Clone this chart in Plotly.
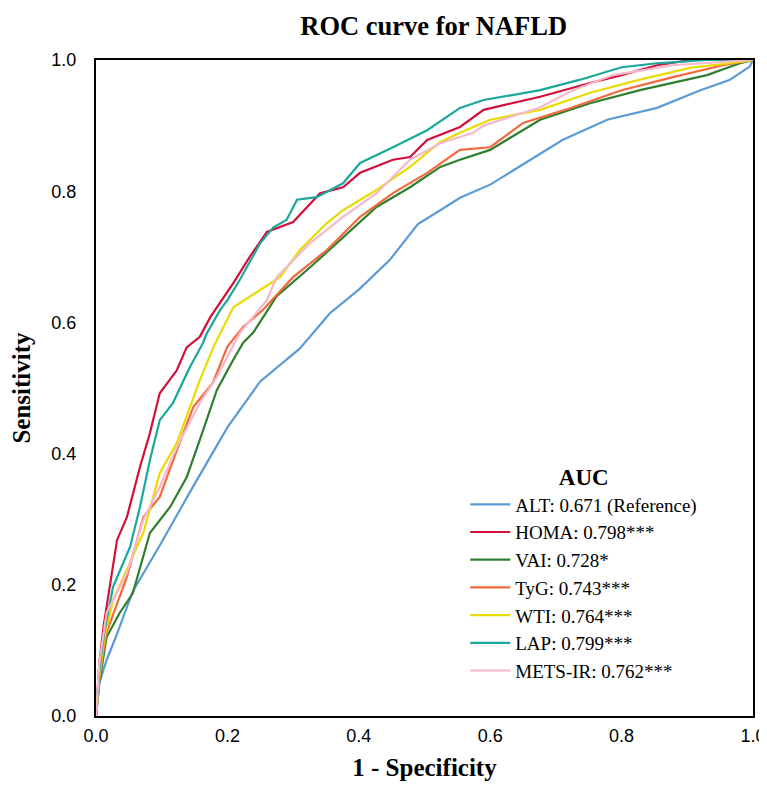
import plotly.graph_objects as go

series_names = ["ALT", "HOMA", "VAI", "TyG", "WTI", "LAP", "METS-IR"]
legend_labels = [
    "ALT: 0.671 (Reference)",
    "HOMA: 0.798***",
    "VAI: 0.728*",
    "TyG: 0.743***",
    "WTI: 0.764***",
    "LAP: 0.799***",
    "METS-IR: 0.762***",
]
colors = ["#5B9BD5", "#D40F3C", "#2F7F2F", "#F4693A", "#E8DC00", "#19A89A", "#F7B8CC"]

alt_fpr = [0, 0.005, 0.016, 0.03, 0.056, 0.097, 0.148, 0.2, 0.25, 0.31, 0.356, 0.40, 0.447, 0.49, 0.524, 0.554, 0.6, 0.71, 0.778, 0.854, 0.92, 0.965, 0.995, 1.0]
alt_tpr = [0, 0.05, 0.085, 0.12, 0.19, 0.26, 0.35, 0.44, 0.51, 0.56, 0.614, 0.65, 0.695, 0.75, 0.771, 0.79, 0.81, 0.878, 0.909, 0.927, 0.954, 0.97, 0.99, 1.0]

homa_fpr = [0, 0.005, 0.012, 0.021, 0.032, 0.047, 0.067, 0.082, 0.097, 0.123, 0.138, 0.158, 0.174, 0.209, 0.234, 0.26, 0.30, 0.341, 0.376, 0.402, 0.452, 0.478, 0.504, 0.554, 0.59, 0.676, 0.752, 0.80, 0.854, 0.905, 1.0]
homa_tpr = [0, 0.08, 0.14, 0.197, 0.268, 0.303, 0.38, 0.431, 0.492, 0.527, 0.562, 0.578, 0.608, 0.66, 0.70, 0.738, 0.753, 0.797, 0.806, 0.828, 0.848, 0.852, 0.878, 0.898, 0.924, 0.944, 0.965, 0.977, 0.992, 1.0, 1.0]

vai_fpr = [0, 0.005, 0.016, 0.036, 0.056, 0.082, 0.113, 0.138, 0.158, 0.184, 0.209, 0.224, 0.239, 0.275, 0.326, 0.376, 0.427, 0.478, 0.524, 0.554, 0.6, 0.676, 0.752, 0.828, 0.93, 0.98, 1.0]
vai_tpr = [0, 0.05, 0.12, 0.157, 0.187, 0.279, 0.319, 0.364, 0.421, 0.497, 0.543, 0.569, 0.584, 0.64, 0.684, 0.73, 0.776, 0.806, 0.837, 0.848, 0.863, 0.909, 0.934, 0.954, 0.977, 0.995, 1.0]

tyg_fpr = [0, 0.005, 0.016, 0.047, 0.072, 0.097, 0.123, 0.148, 0.178, 0.2, 0.224, 0.255, 0.30, 0.351, 0.402, 0.452, 0.504, 0.554, 0.6, 0.65, 0.726, 0.80, 0.878, 0.954, 1.0]
tyg_tpr = [0, 0.06, 0.127, 0.212, 0.303, 0.334, 0.405, 0.471, 0.508, 0.563, 0.593, 0.62, 0.669, 0.71, 0.761, 0.797, 0.828, 0.863, 0.867, 0.904, 0.928, 0.954, 0.974, 0.992, 1.0]

wti_fpr = [0, 0.005, 0.013, 0.026, 0.047, 0.072, 0.097, 0.123, 0.158, 0.18, 0.209, 0.25, 0.28, 0.31, 0.351, 0.376, 0.427, 0.478, 0.524, 0.554, 0.6, 0.676, 0.752, 0.828, 0.904, 0.98, 1.0]
wti_tpr = [0, 0.06, 0.12, 0.177, 0.223, 0.279, 0.37, 0.416, 0.512, 0.565, 0.623, 0.649, 0.669, 0.71, 0.751, 0.771, 0.802, 0.837, 0.875, 0.889, 0.909, 0.924, 0.95, 0.97, 0.988, 0.997, 1.0]

lap_fpr = [0, 0.005, 0.013, 0.026, 0.052, 0.067, 0.082, 0.097, 0.117, 0.143, 0.163, 0.169, 0.189, 0.2, 0.219, 0.25, 0.27, 0.29, 0.306, 0.336, 0.376, 0.402, 0.452, 0.504, 0.554, 0.59, 0.676, 0.737, 0.80, 0.854, 0.93, 1.0]
lap_tpr = [0, 0.07, 0.13, 0.197, 0.258, 0.319, 0.39, 0.451, 0.477, 0.532, 0.569, 0.584, 0.619, 0.634, 0.665, 0.721, 0.745, 0.756, 0.787, 0.791, 0.812, 0.843, 0.867, 0.893, 0.927, 0.939, 0.954, 0.97, 0.989, 0.995, 1.0, 1.0]

mets_fpr = [0, 0.005, 0.016, 0.047, 0.072, 0.097, 0.123, 0.158, 0.184, 0.219, 0.26, 0.275, 0.326, 0.376, 0.427, 0.478, 0.524, 0.554, 0.574, 0.59, 0.676, 0.726, 0.787, 0.878, 0.954, 1.0]
mets_tpr = [0, 0.08, 0.157, 0.218, 0.299, 0.349, 0.41, 0.477, 0.517, 0.584, 0.634, 0.669, 0.721, 0.761, 0.797, 0.848, 0.873, 0.883, 0.889, 0.9, 0.928, 0.954, 0.977, 0.992, 0.997, 1.0]

tick_vals = [0.0, 0.2, 0.4, 0.6, 0.8, 1.0]
tick_text = ["0.0", "0.2", "0.4", "0.6", "0.8", "1.0"]

xs = [alt_fpr, homa_fpr, vai_fpr, tyg_fpr, wti_fpr, lap_fpr, mets_fpr]
ys = [alt_tpr, homa_tpr, vai_tpr, tyg_tpr, wti_tpr, lap_tpr, mets_tpr]

fig = go.Figure()
for name, label, col, x, y in zip(series_names, legend_labels, colors, xs, ys):
    fig.add_trace(go.Scatter(x=x, y=y, mode="lines", name=label,
                             line=dict(color=col, width=2.2)))

serif = "Liberation Serif, Times New Roman, serif"
sans = "Liberation Sans, Arial, sans-serif"

fig.update_layout(
    width=767, height=799,
    margin=dict(l=88, r=22, t=52, b=91),
    paper_bgcolor="white", plot_bgcolor="white",
    title=dict(text="<b>ROC curve for NAFLD</b>", font=dict(family=serif, size=26.5, color="black"),
               x=0.555, xref="container", xanchor="center",
               y=1 - 18 / 799, yref="container", yanchor="middle"),
    legend=dict(
        title=dict(text="<b>AUC</b>", font=dict(family=serif, size=23, color="black"), side="top center"),
        font=dict(family=serif, size=19, color="black"),
        itemwidth=40,
        x=0.562, xanchor="left", y=0.397, yanchor="top",
        bgcolor="rgba(0,0,0,0)", borderwidth=0,
    ),
    xaxis=dict(
        range=[0, 1], tickvals=tick_vals, ticktext=tick_text, automargin=False,
        showgrid=False, zeroline=False, showline=True, linecolor="black", linewidth=2, mirror=True,
        ticks="", ticklabelstandoff=2,
        tickfont=dict(family=sans, size=18, color="black"),
        title=dict(text="<b>1 - Specificity</b>", font=dict(family=serif, size=25, color="black"), standoff=14),
    ),
    yaxis=dict(
        range=[0, 1], tickvals=tick_vals, ticktext=tick_text, automargin=False,
        showgrid=False, zeroline=False, showline=True, linecolor="black", linewidth=2, mirror=True,
        ticks="", ticklabelstandoff=14,
        tickfont=dict(family=sans, size=18, color="black"),
        title=dict(text="<b>Sensitivity</b>", font=dict(family=serif, size=25, color="black"), standoff=22),
    ),
)

fig.write_html("out.html")
